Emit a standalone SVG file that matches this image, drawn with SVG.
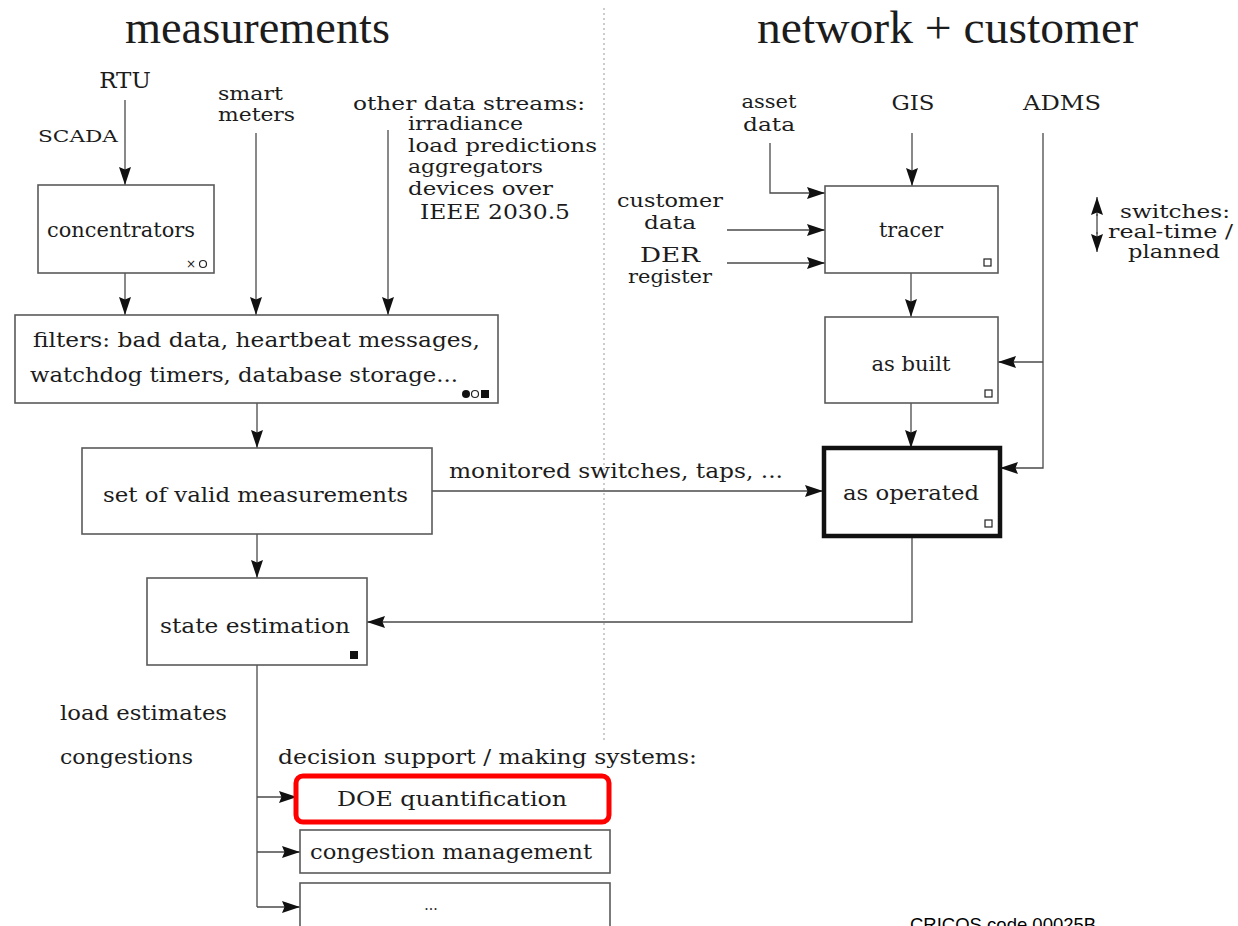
<svg xmlns="http://www.w3.org/2000/svg" width="1238" height="926" viewBox="0 0 1238 926">
  <defs>
    <marker id="arr" viewBox="0 0 18 12" refX="18" refY="6" markerWidth="18" markerHeight="12" markerUnits="userSpaceOnUse" orient="auto-start-reverse">
      <path d="M0,0 L18,6 L0,12 L2.5,6 z" fill="#111"/>
    </marker>
  </defs>
  <style>
    .t { font-family: "DejaVu Serif", "Liberation Serif", serif; font-size: 20px; fill: #1c1c1c; }
    .s { font-size: 19px; }
    .c { text-anchor: middle; }
    .h { font-family: "Liberation Serif", "DejaVu Serif", serif; font-size: 46px; fill: #1c1c1c; }
    .box { fill: #fff; stroke: #5a5a5a; stroke-width: 1.6; }
    .thick { fill: #fff; stroke: #111; stroke-width: 4.5; }
    .doe { fill: #fff; stroke: #f00; stroke-width: 5; }
    .wire { fill: none; stroke: #4a4a4a; stroke-width: 1.3; }
    .arw { marker-end: url(#arr); }
    .ico { fill: #fff; stroke: #222; stroke-width: 1.2; }
    .icof { fill: #111; }
    .sep { stroke: #9a9a9a; stroke-width: 1; stroke-dasharray: 2 3; }
  </style>
  <rect width="1238" height="926" fill="#fff"/>

  <!-- section headings and divider -->
  <g id="headings">
    <text class="h" x="125" y="43" textLength="265" lengthAdjust="spacingAndGlyphs">measurements</text>
    <text class="h" x="757" y="43" textLength="381" lengthAdjust="spacingAndGlyphs">network + customer</text>
    <line class="sep" x1="604" y1="8" x2="604" y2="740"/>
  </g>

  <!-- connectors -->
  <g id="connectors">
    <path class="wire arw" d="M125,100 V185"/>
    <path class="wire arw" d="M256,133 V315"/>
    <path class="wire arw" d="M388,130 V315"/>
    <path class="wire arw" d="M125,273 V315"/>
    <path class="wire arw" d="M257,403 V448"/>
    <path class="wire arw" d="M257,534 V578"/>
    <path class="wire arw" d="M432,491 H823"/>
    <path class="wire arw" d="M912,536 V622 H367"/>
    <path class="wire" d="M257,665 V907"/>
    <path class="wire arw" d="M257,797 H297"/>
    <path class="wire arw" d="M257,852 H300"/>
    <path class="wire arw" d="M257,907 H300"/>
    <path class="wire arw" d="M770,143 V193 H825"/>
    <path class="wire arw" d="M912,133 V186"/>
    <path class="wire arw" d="M727,230 H825"/>
    <path class="wire arw" d="M727,263 H825"/>
    <path class="wire arw" d="M1043,133 V468 H1000"/>
    <path class="wire arw" d="M1043,362 H998"/>
    <path class="wire arw" d="M911,273 V317"/>
    <path class="wire arw" d="M911,403 V448"/>
    <text class="t" x="449" y="478" textLength="334" lengthAdjust="spacingAndGlyphs">monitored switches, taps, ...</text>
  </g>

  <!-- source labels -->
  <g id="sources">
    <text class="t c" x="125" y="88" style="font-size:23px">RTU</text>
    <text class="t" x="38" y="142" style="font-size:16px" textLength="80" lengthAdjust="spacingAndGlyphs">SCADA</text>
    <text class="t s" x="218" y="100" textLength="65" lengthAdjust="spacingAndGlyphs">smart</text>
    <text class="t s" x="218" y="121" textLength="77" lengthAdjust="spacingAndGlyphs">meters</text>
    <text class="t s" x="353" y="110" textLength="232" lengthAdjust="spacingAndGlyphs">other data streams:</text>
    <text class="t s" x="408" y="130" textLength="115" lengthAdjust="spacingAndGlyphs">irradiance</text>
    <text class="t s" x="408" y="152" textLength="189" lengthAdjust="spacingAndGlyphs">load predictions</text>
    <text class="t s" x="408" y="173" textLength="135" lengthAdjust="spacingAndGlyphs">aggregators</text>
    <text class="t s" x="408" y="195" textLength="145" lengthAdjust="spacingAndGlyphs">devices over</text>
    <text class="t" x="420" y="219" style="font-size:21px" textLength="150" lengthAdjust="spacingAndGlyphs">IEEE 2030.5</text>
    <text class="t s c" x="769" y="108" textLength="55" lengthAdjust="spacingAndGlyphs">asset</text>
    <text class="t s c" x="769" y="131" textLength="52" lengthAdjust="spacingAndGlyphs">data</text>
    <text class="t c" x="913" y="110" style="font-size:21px" textLength="43" lengthAdjust="spacingAndGlyphs">GIS</text>
    <text class="t c" x="1062" y="110" style="font-size:21px" textLength="78" lengthAdjust="spacingAndGlyphs">ADMS</text>
    <text class="t s c" x="670" y="207" textLength="106" lengthAdjust="spacingAndGlyphs">customer</text>
    <text class="t s c" x="670" y="229" textLength="52" lengthAdjust="spacingAndGlyphs">data</text>
    <text class="t c" x="670" y="262" style="font-size:21px" textLength="60" lengthAdjust="spacingAndGlyphs">DER</text>
    <text class="t s c" x="670" y="283" textLength="84" lengthAdjust="spacingAndGlyphs">register</text>
  </g>

  <!-- switch legend -->
  <g id="legend">
    <path class="wire arw" d="M1097,216 V197" />
    <path class="wire arw" d="M1097,232 V252" />
    <line class="wire" x1="1097" y1="214" x2="1097" y2="234"/>
    <text class="t s" x="1120" y="218" textLength="110" lengthAdjust="spacingAndGlyphs">switches:</text>
    <text class="t s" x="1108" y="238" textLength="125" lengthAdjust="spacingAndGlyphs">real-time /</text>
    <text class="t s" x="1128" y="258" textLength="92" lengthAdjust="spacingAndGlyphs">planned</text>
  </g>

  <g id="concentrators">
    <rect class="box" x="38" y="185" width="176" height="88"/>
    <text class="t c" x="121" y="237" textLength="148" lengthAdjust="spacingAndGlyphs">concentrators</text>
    <text x="186" y="268" style="font-family:'DejaVu Sans',sans-serif;font-size:12px;fill:#222">×</text>
    <circle class="ico" cx="203" cy="264" r="3.5"/>
  </g>

  <g id="filters">
    <rect class="box" x="15" y="315" width="483" height="88"/>
    <text class="t" x="33" y="347" textLength="447" lengthAdjust="spacingAndGlyphs">filters: bad data, heartbeat messages,</text>
    <text class="t" x="30" y="382" textLength="428" lengthAdjust="spacingAndGlyphs">watchdog timers, database storage...</text>
    <circle class="icof" cx="466" cy="394" r="4"/>
    <circle class="ico" cx="475" cy="394" r="3.5"/>
    <rect class="icof" x="481" y="390" width="8" height="8"/>
  </g>

  <g id="valid-measurements">
    <rect class="box" x="82" y="448" width="350" height="86"/>
    <text class="t" x="103" y="502" textLength="305" lengthAdjust="spacingAndGlyphs">set of valid measurements</text>
  </g>

  <g id="state-estimation">
    <rect class="box" x="147" y="578" width="220" height="87"/>
    <text class="t" x="160" y="633" textLength="190" lengthAdjust="spacingAndGlyphs">state estimation</text>
    <rect class="icof" x="350" y="651" width="8" height="8"/>
  </g>

  <g id="tracer">
    <rect class="box" x="825" y="186" width="173" height="87"/>
    <text class="t c" x="911" y="237" textLength="64" lengthAdjust="spacingAndGlyphs">tracer</text>
    <rect class="ico" x="984" y="259" width="7" height="7"/>
  </g>

  <g id="as-built">
    <rect class="box" x="825" y="317" width="173" height="86"/>
    <text class="t c" x="911" y="371" textLength="79" lengthAdjust="spacingAndGlyphs">as built</text>
    <rect class="ico" x="985" y="390" width="7" height="7"/>
  </g>

  <g id="as-operated">
    <rect class="thick" x="824" y="448" width="176" height="88"/>
    <text class="t c" x="911" y="500" textLength="136" lengthAdjust="spacingAndGlyphs">as operated</text>
    <rect class="ico" x="985" y="520" width="7" height="7"/>
  </g>

  <g id="analysis-notes">
    <text class="t" x="60" y="720" textLength="167" lengthAdjust="spacingAndGlyphs">load estimates</text>
    <text class="t" x="60" y="764" textLength="133" lengthAdjust="spacingAndGlyphs">congestions</text>
    <text class="t" x="278" y="764" textLength="419" lengthAdjust="spacingAndGlyphs">decision support / making systems:</text>
  </g>

  <g id="doe-quantification">
    <rect class="doe" x="296" y="776" width="313" height="46" rx="7"/>
    <text class="t c" x="452" y="806" style="font-size:21px" textLength="230" lengthAdjust="spacingAndGlyphs">DOE quantification</text>
  </g>

  <g id="congestion-management">
    <rect class="box" x="300" y="830" width="310" height="43"/>
    <text class="t c" x="451" y="859" textLength="282" lengthAdjust="spacingAndGlyphs">congestion management</text>
  </g>

  <g id="more-systems">
    <rect class="box" x="300" y="883" width="310" height="60"/>
    <text class="t c" x="431" y="910" style="font-size:14px">...</text>
  </g>

  <text x="910" y="931" style="font-family:'Liberation Sans',Arial,sans-serif;font-size:18.5px;fill:#000">CRICOS code 00025B</text>
</svg>
